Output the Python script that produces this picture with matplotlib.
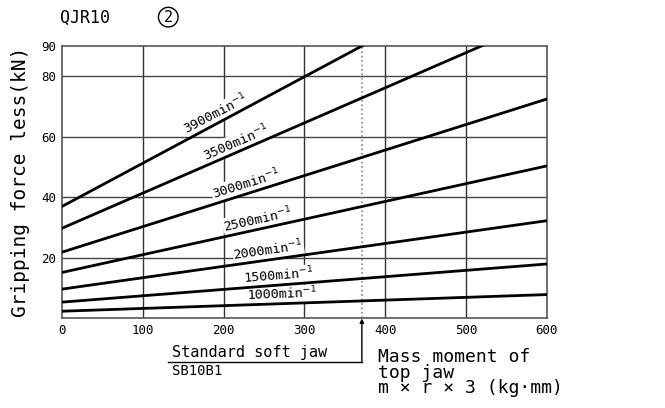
import numpy as np
import matplotlib.pyplot as plt

# rotational speed (min^-1) and gripping force loss (kN) at mass moment 0 and 600
speeds = [1000, 1500, 2000, 2500, 3000, 3500, 3900]
moment = [0, 600]
force_at_0 = [2.4, 5.4, 9.7, 15.2, 21.9, 29.8, 37.0]
force_at_600 = [7.9, 18.0, 32.3, 50.4, 72.5, 99.4, 122.7]

# where each speed label sits along its line (mass moment) and its angle
label_x = [273, 269, 257, 245, 231, 220, 196]
label_rot = [2, 4.5, 8, 12.4, 17.5, 23.5, 27.5]

standard_jaw = 371

mono = 'DejaVu Sans Mono'

fig = plt.figure(figsize=(6.65, 4.08), dpi=100)
ax = fig.add_axes([0.0932, 0.2194, 0.7293, 0.6679])

for i, s in enumerate(speeds):
    ax.plot(moment, [force_at_0[i], force_at_600[i]], color='black', lw=2, zorder=3)
    lx = label_x[i]
    ly = force_at_0[i] + (force_at_600[i] - force_at_0[i]) * lx / 600
    th = np.radians(label_rot[i])
    d = 3.0
    ax.annotate(f'{s}min$^{{-1}}$', xy=(lx, ly), xytext=(-d * np.sin(th), d * np.cos(th)),
                textcoords='offset points', rotation=label_rot[i], rotation_mode='anchor',
                ha='center', va='baseline', fontsize=9.5, family=mono, zorder=2.5,
                bbox=dict(facecolor='white', edgecolor='none', pad=0.3))

ax.axvline(standard_jaw, color='#888888', ls=':', lw=1.2, zorder=2)

ax.set_xlim(0, 600)
ax.set_ylim(0, 90)
ax.set_xticks([0, 100, 200, 300, 400, 500, 600])
ax.set_yticks([20, 40, 60, 80, 90])
ax.tick_params(length=0, labelsize=9, pad=4)
for lab in ax.get_xticklabels() + ax.get_yticklabels():
    lab.set_family(mono)
for v in [100, 200, 300, 400, 500]:
    ax.axvline(v, color='#333333', lw=1, zorder=1)
for v in [20, 40, 60, 80]:
    ax.axhline(v, color='#444444', lw=1, zorder=1)
for sp in ax.spines.values():
    sp.set_color('#555555')
    sp.set_linewidth(1.2)

ax.set_ylabel('Gripping force less(kN)', fontsize=14, family=mono, labelpad=8)

fig.text(0.09, 0.955, 'QJR10', fontsize=12, family=mono, va='center')
fig.text(0.253, 0.958, '2', fontsize=11, family=mono, va='center', ha='center',
         bbox=dict(boxstyle='circle,pad=0.15', facecolor='white', edgecolor='black', lw=1))

# standard soft jaw marker
ax.annotate('', xy=(standard_jaw, 0), xytext=(standard_jaw, -14.4),
            arrowprops=dict(arrowstyle='-|>', color='black', lw=1, mutation_scale=6,
                            shrinkA=0, shrinkB=0),
            annotation_clip=False)
ax.plot([131, standard_jaw], [-14.4, -14.4], color='black', lw=1, clip_on=False)
ax.text(136, -12.7, 'Standard soft jaw', fontsize=11, family=mono, va='baseline')
ax.text(136, -18.8, 'SB10B1', fontsize=10, family=mono, va='baseline')

# x axis title
fig.text(0.568, 0.148, 'Mass moment of\ntop jaw\nm × r × 3 (kg·mm)', fontsize=13,
         family=mono, va='top', ha='left', linespacing=0.85)

fig.savefig('out.png', dpi=100)
